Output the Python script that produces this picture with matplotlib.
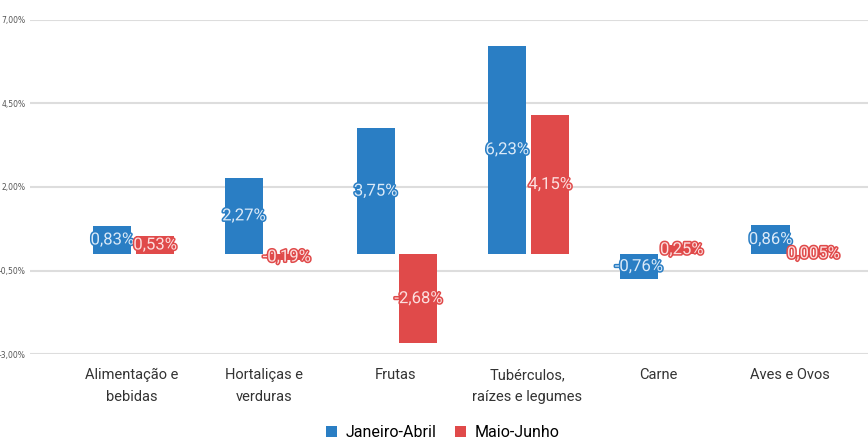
import matplotlib.pyplot as plt
import matplotlib.patheffects as pe
import numpy as np
from matplotlib.ticker import FuncFormatter

# Dados do gráfico
categorias = ["Alimentação e\nbebidas", "Hortaliças e\nverduras", "Frutas",
              "Tubérculos,\nraízes e legumes", "Carne", "Aves e Ovos"]
jan_abr = [0.83, 2.27, 3.75, 6.23, -0.76, 0.86]
mai_jun = [0.53, -0.19, -2.68, 4.15, 0.25, 0.005]
rotulos_jan = ["0,83%", "2,27%", "3,75%", "6,23%", "-0,76%", "0,86%"]
rotulos_mai = ["0,53%", "-0,19%", "-2,68%", "4,15%", "0,25%", "0,005%"]
ticks_y = [-3.0, -0.5, 2.0, 4.5, 7.0]

azul = "#2a7ec4"
vermelho = "#e04a4a"

fig = plt.figure(figsize=(8.68, 4.41), dpi=100)
ax = fig.add_axes([0.0346, 0.197, 0.9654, 0.758])

x = np.arange(len(categorias))
w = 0.29
b1 = ax.bar(x - 0.15, jan_abr, w, color=azul, zorder=3, label="Janeiro-Abril")
b2 = ax.bar(x + 0.175, mai_jun, w, color=vermelho, zorder=3, label="Maio-Junho")

# Rótulos no meio das barras
for xs, vals, txts, cor, claro in [(x - 0.15, jan_abr, rotulos_jan, azul, "#dbeaf8"),
                                   (x + 0.175, mai_jun, rotulos_mai, vermelho, "#fcdede")]:
    for xi, v, t in zip(xs, vals, txts):
        ax.text(xi, v / 2, t, ha="center", va="center", fontsize=12,
                family="Roboto", color=claro, zorder=5,
                path_effects=[pe.withStroke(linewidth=2.2, foreground=cor)])

ax.set_ylim(-3.0, 7.0)
ax.set_xlim(-0.775, 5.59)
ax.set_yticks(ticks_y)
ax.yaxis.set_major_formatter(FuncFormatter(lambda v, p: f"{v:.2f}%".replace(".", ",")))
ax.tick_params(axis="y", length=0, labelsize=5.5, labelcolor="#555555", pad=3)
ax.set_xticks(x)
ax.set_xticklabels(categorias, fontsize=10.5, color="#333333", family="Roboto",
                   linespacing=1.75)
ax.tick_params(axis="x", length=0, pad=10)
ax.grid(axis="y", color="#dddddd", linewidth=1.5, zorder=0)
for s in ax.spines.values():
    s.set_visible(False)

fig.legend(handles=[b1, b2], loc="lower center", bbox_to_anchor=(0.51, -0.03), ncol=2,
           frameon=False, handlelength=0.7, handleheight=0.7,
           handletextpad=0.5, columnspacing=1.2,
           prop={"family": "Roboto", "size": 11.5})

fig.savefig("out.png", dpi=100)
